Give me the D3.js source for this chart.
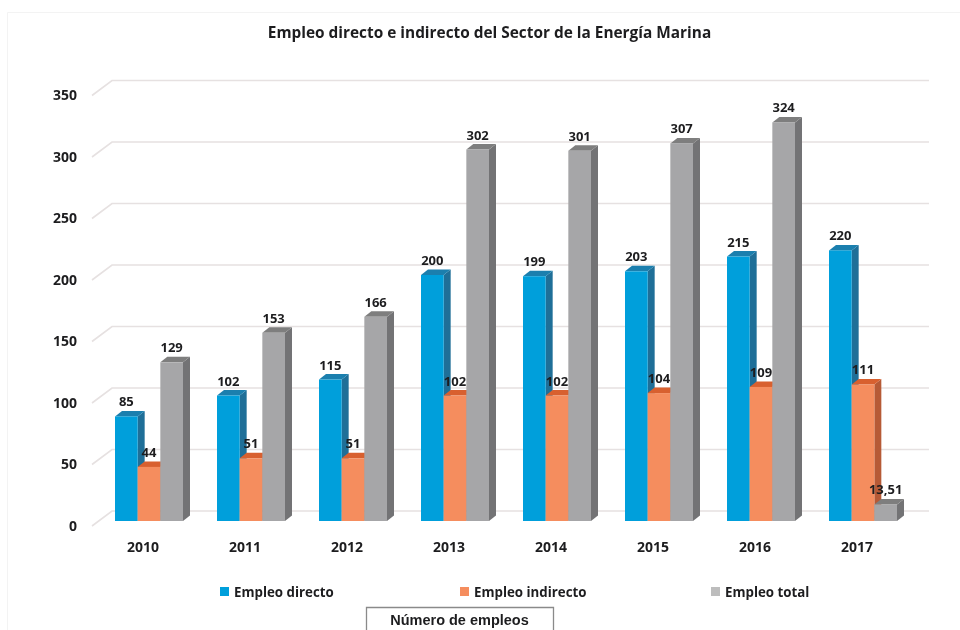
<!DOCTYPE html>
<html>
<head>
<meta charset="utf-8">
<script src="https://cdn.jsdelivr.net/npm/d3@7"></script>
<style>
 body { margin: 0; background: #fff; }
 svg { display: block; filter: blur(0.55px); }
 text { font-family: "Open Sans", sans-serif; font-weight: 700; fill: #1d1d1f; }
</style>
</head>
<body>
<div id="canvas"></div>
<script>
// values
var years = ["2010", "2011", "2012", "2013", "2014", "2015", "2016", "2017"];
var directo = [85, 102, 115, 200, 199, 203, 215, 220];
var indirecto = [44, 51, 51, 102, 102, 104, 109, 111];
var total = [129, 153, 166, 302, 301, 307, 324, 13.51];
var totalLabels = ["129", "153", "166", "302", "301", "307", "324", "13,51"];
var seriesNames = ["Empleo directo", "Empleo indirecto", "Empleo total"];
var yTicks = [0, 50, 100, 150, 200, 250, 300, 350];

var width = 960, height = 630;

// front, top and side colour of each series
var colors = [
	{front: "#009fdb", top: "#1b7fae", side: "#1f6f98"},
	{front: "#f58d5e", top: "#d8602f", side: "#b65a36"},
	{front: "#a6a6a8", top: "#7e7e7e", side: "#737375"}
];

var svg = d3.select("#canvas")
	.append("svg")
	.attr("width", width)
	.attr("height", height);

// faint frame of the original figure
svg.append("path")
	.attr("d", "M7.5,630V12.5H960")
	.attr("fill", "none")
	.attr("stroke", "#f3f3f3");

svg.append("text")
	.attr("x", 489.5)
	.attr("y", 38)
	.attr("text-anchor", "middle")
	.style("font-size", "15.4px")
	.text("Empleo directo e indirecto del Sector de la Energía Marina");

var x = d3.scaleBand().domain(years).range([94.6, 917.4]).paddingInner(1 / 3).paddingOuter(0.2);
var y = d3.scaleLinear().domain([0, 350]).range([521, 90.5]);
var inner = d3.scaleBand().domain([0, 1, 2]).range([0, x.bandwidth()]);

// depth of the 3d bars and of the chart wall
var barDx = 7, barDy = -5.5;
var wallLeft = 92, wallX = 112, wallRight = 929;

// gridlines: a diagonal on the floor/side wall and then along the back wall
svg.append("g").selectAll("path")
	.data(yTicks)
	.join("path")
	.attr("d", function(d) {
		return "M" + wallLeft + "," + (y(d) + 5) + "L" + wallX + "," + (y(d) - 10) + "H" + wallRight;
	})
	.attr("fill", "none")
	.attr("stroke", "#e6e1e1")
	.attr("stroke-width", 1.6);

// y axis labels
var yAxis = svg.append("g")
	.attr("transform", "translate(80,5)")
	.call(d3.axisLeft(y).tickValues(yTicks).tickSize(0).tickFormat(d3.format("d")));
yAxis.select(".domain").remove();
yAxis.selectAll("text").style("font-size", "14px").attr("x", -3);

// x axis labels
var xAxis = svg.append("g")
	.attr("transform", "translate(-6,539)")
	.call(d3.axisBottom(x).tickSize(0));
xAxis.select(".domain").remove();
xAxis.selectAll("text").style("font-size", "14px").attr("y", 3);

// draw one 3d bar: side, top, then front
function drawBar(g, xPos, w, value, c) {
	var top = y(value), base = y(0);
	g.append("path")
		.attr("d", "M" + (xPos + w) + "," + top + "l" + barDx + "," + barDy + "V" + (base + barDy) + "l" + (-barDx) + "," + (-barDy) + "Z")
		.attr("fill", c.side);
	g.append("path")
		.attr("d", "M" + xPos + "," + top + "l" + barDx + "," + barDy + "h" + w + "l" + (-barDx) + "," + (-barDy) + "Z")
		.attr("fill", c.top);
	g.append("rect")
		.attr("x", xPos)
		.attr("y", top)
		.attr("width", w)
		.attr("height", base - top)
		.attr("fill", c.front);
}

var allValues = [directo, indirecto, total];
var allLabels = [directo, indirecto, totalLabels];

var bars = svg.append("g");
var labels = svg.append("g");

years.forEach(function(year, i) {
	allValues.forEach(function(values, s) {
		var xPos = x(year) + inner(s);
		drawBar(bars, xPos, inner.bandwidth(), values[i], colors[s]);
		labels.append("text")
			.attr("x", xPos + inner.bandwidth() / 2)
			.attr("y", y(values[i]) - 10)
			.attr("text-anchor", "middle")
			.style("font-size", "13px")
			.text(allLabels[s][i]);
	});
});

// legend
var swatchColors = ["#009fdb", "#f58d5e", "#bdbdbd"];
var legendXs = [220, 460, 711];
seriesNames.forEach(function(name, i) {
	svg.append("rect")
		.attr("x", legendXs[i])
		.attr("y", 587)
		.attr("width", 9)
		.attr("height", 9)
		.attr("fill", swatchColors[i]);
	svg.append("text")
		.attr("x", legendXs[i] + 14)
		.attr("y", 596.5)
		.style("font-size", "13.3px")
		.text(name);
});

// axis title box, cut by the bottom edge
svg.append("path")
	.attr("d", "M366.5,630V607.5H553.5V630")
	.attr("fill", "none")
	.attr("stroke", "#8a8a8a")
	.attr("stroke-width", 1.3);
svg.append("text")
	.attr("x", 459.5)
	.attr("y", 625)
	.attr("text-anchor", "middle")
	.style("font-family", "'Liberation Sans', sans-serif")
	.style("font-size", "14.5px")
	.text("Número de empleos");
</script>
</body>
</html>
